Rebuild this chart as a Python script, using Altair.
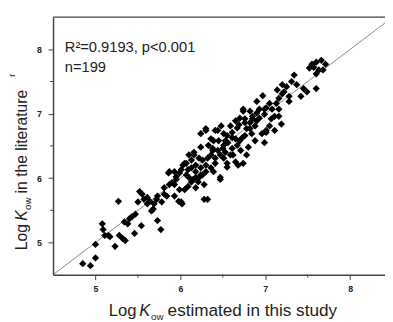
import altair as alt
import pandas as pd

# Estimated log Kow (this study) vs. literature log Kow
est = [4.85, 4.94, 5.00, 5.00, 5.08, 5.09, 5.11, 5.15, 5.17, 5.23,
       5.27, 5.28, 5.32, 5.34, 5.35, 5.40, 5.43, 5.46, 5.54, 5.50,
       5.52, 5.55, 5.57, 5.61, 5.64, 5.66, 5.68, 5.69, 5.73, 5.73,
       5.77, 5.78, 5.81, 5.84, 5.86, 5.87, 5.90, 5.93, 5.95, 5.98,
       5.99, 6.01, 6.02, 6.05, 6.07, 6.09, 6.09, 6.13, 6.15, 6.16,
       6.16, 6.18, 6.10, 6.22, 6.24, 6.26, 6.28, 6.30, 6.32, 6.03,
       5.95, 5.87, 6.21, 6.26, 6.24, 6.24, 6.30, 6.30, 6.38, 6.38,
       6.39, 6.41, 6.41, 6.44, 6.45, 6.47, 6.47, 6.51, 6.51, 6.53,
       6.55, 6.55, 6.56, 6.61, 6.61, 6.61, 6.65, 6.65, 6.67, 6.69,
       6.68, 6.70, 6.73, 6.74, 6.74, 6.74, 6.76, 6.76, 6.80, 6.82,
       6.84, 6.85, 6.85, 6.93, 6.96, 6.97, 6.90, 6.99, 6.99, 6.99,
       7.01, 7.01, 7.01, 7.07, 7.11, 7.11, 7.13, 7.16, 7.16, 7.19,
       7.20, 7.20, 7.22, 7.28, 7.34, 7.42, 7.45, 7.49, 7.55, 7.60,
       7.60, 7.60, 7.63, 7.66, 7.68, 7.71, 6.01, 6.07, 6.13, 6.18,
       6.18, 6.24, 6.30, 6.32, 6.36, 6.33, 6.39, 6.44, 6.47, 6.51,
       6.53, 6.59, 6.62, 6.67, 6.70, 6.76, 6.78, 6.82, 6.88, 6.90,
       6.93, 7.05, 7.08, 7.14, 7.25, 7.31, 7.37, 7.52, 7.57, 6.13,
       5.93, 5.81, 5.72, 5.61, 5.47, 5.38, 6.05, 5.99, 6.36, 6.28,
       6.41, 6.59, 6.65, 6.82, 6.90, 5.93, 6.22, 6.50, 6.55, 6.71,
       6.78, 6.88, 7.05, 7.16, 7.28, 6.18, 6.10, 6.36, 6.48]
lit = [4.67, 4.64, 4.76, 4.97, 5.29, 5.20, 5.11, 5.11, 5.09, 4.94,
       5.64, 5.11, 5.06, 5.32, 5.03, 5.37, 5.40, 5.14, 5.26, 5.63,
       5.79, 5.75, 5.67, 5.70, 5.64, 5.49, 5.52, 5.60, 5.72, 5.34,
       5.20, 5.63, 5.85, 5.72, 6.08, 5.90, 5.93, 5.72, 6.02, 5.64,
       6.08, 5.63, 5.60, 6.23, 6.23, 6.13, 5.87, 5.94, 5.98, 6.36,
       6.40, 5.85, 6.36, 6.01, 6.05, 6.28, 5.67, 6.10, 5.67, 6.20,
       5.98, 6.10, 5.94, 6.05, 6.48, 6.69, 6.77, 6.74, 6.46, 6.43,
       6.10, 6.74, 6.23, 6.74, 6.58, 6.01, 5.98, 6.69, 6.51, 6.40,
       6.23, 6.17, 6.55, 6.71, 6.63, 6.46, 6.61, 6.25, 6.78, 6.83,
       6.20, 6.93, 6.63, 7.07, 7.04, 6.23, 6.92, 6.86, 6.48, 6.77,
       6.69, 6.96, 6.92, 6.93, 6.69, 7.28, 7.19, 7.07, 6.99, 6.55,
       7.09, 6.74, 6.71, 6.92, 6.96, 6.74, 7.16, 7.24, 7.07, 6.84,
       7.45, 7.31, 7.34, 7.27, 7.60, 7.27, 7.39, 7.34, 7.77, 7.80,
       7.62, 7.39, 7.68, 7.83, 7.68, 7.77, 6.13, 6.05, 6.16, 6.20,
       6.10, 6.16, 6.20, 6.31, 6.36, 6.51, 6.58, 6.43, 6.36, 6.31,
       6.58, 6.36, 6.36, 6.51, 6.58, 6.66, 6.77, 6.86, 6.81, 7.01,
       7.07, 7.16, 7.07, 7.37, 7.42, 7.50, 7.45, 7.71, 7.72, 6.28,
       5.90, 5.75, 5.67, 5.60, 5.44, 5.29, 5.82, 5.82, 6.16, 5.90,
       6.31, 6.81, 6.89, 7.04, 6.89, 6.10, 6.31, 6.46, 6.66, 6.43,
       6.36, 6.58, 6.81, 6.96, 7.19, 6.01, 6.01, 6.61, 6.81]

major_ticks = [5, 6, 7, 8]
minor_ticks = [5.5, 6.5, 7.5]
diag = [4.5, 8.5]

XMIN, XMAX = 4.5, 8.41
YMIN, YMAX = 4.5, 8.5
W, H = 339, 263
FONT = "Liberation Sans"
INK = "#222222"
AX = "#444444"

pts = pd.DataFrame({"est": est, "lit": lit})
diag_df = pd.DataFrame({"est": diag, "lit": diag})
minor_df = pd.DataFrame({"v": minor_ticks})

xs = alt.Scale(domain=[XMIN, XMAX], nice=False, zero=False)
ys = alt.Scale(domain=[YMIN, YMAX], nice=False, zero=False)

xaxis = alt.Axis(values=major_ticks, format="d", title=None, grid=False, tickSize=5,
                 labelPadding=5, labelFontSize=9, labelFontWeight="bold",
                 labelFont=FONT, labelColor=INK, domainColor=AX, domainWidth=1.5,
                 tickColor=AX, labelFlush=False)
yaxis = alt.Axis(values=major_ticks, format="d", title=None, grid=False, tickSize=5,
                 labelPadding=7, labelFontSize=9, labelFontWeight="bold",
                 labelFont=FONT, labelColor=INK, domainColor=AX, domainWidth=1.5,
                 tickColor=AX, labelFlush=False)

points = alt.Chart(pts).mark_point(shape="diamond", filled=True, size=55,
                                   color="black", opacity=1).encode(
    x=alt.X("est:Q", scale=xs, axis=xaxis),
    y=alt.Y("lit:Q", scale=ys, axis=yaxis),
)

line = alt.Chart(diag_df).mark_line(color="#555555", strokeWidth=0.7, clip=True).encode(
    x=alt.X("est:Q", scale=xs),
    y=alt.Y("lit:Q", scale=ys),
)

top = alt.Chart(pd.DataFrame({"a": [0]})).mark_rule(color=AX, strokeWidth=1.5).encode(
    x=alt.value(0), x2=alt.value(W), y=alt.value(0)
)

xminor = alt.Chart(minor_df).mark_rule(color=AX, strokeWidth=1).encode(
    x=alt.X("v:Q", scale=xs), y=alt.value(H), y2=alt.value(H + 3)
)
yminor = alt.Chart(minor_df).mark_rule(color=AX, strokeWidth=1).encode(
    y=alt.Y("v:Q", scale=ys), x=alt.value(0), x2=alt.value(-3)
)

def txt(s, x, y, size, style="normal", angle=0, align="left"):
    return alt.Chart(pd.DataFrame({"t": [s]})).mark_text(
        font=FONT, fontSize=size, fontStyle=style, color=INK, align=align,
        baseline="alphabetic", angle=angle
    ).encode(text="t:N", x=alt.value(x), y=alt.value(y))

annots = [
    txt("R²=0.9193, p<0.001", 12, 36, 15),
    txt("n=199", 12, 56, 15),
    # x title
    txt("Log", 57, 305, 17),
    txt("K", 88, 305, 17, style="italic"),
    txt("ow", 100, 309, 10),
    txt("estimated in this study", 117, 305, 17.5),
    # y title (rotated)
    txt("Log", -27, 238, 16, angle=270),
    txt("K", -27, 208, 16, style="italic", angle=270),
    txt("ow", -23, 197, 10, angle=270),
    txt("in the literature", -27, 180, 16, angle=270),
    txt("r", -39, 61, 9, angle=270),
]

chart = alt.layer(line, points, top, xminor, yminor, *annots).properties(
    width=W, height=H,
    autosize=alt.AutoSizeParams(type="none"),
    padding={"left": 46, "top": 6, "right": 0, "bottom": 45},
).configure_view(stroke=None)

chart.save("out.html", embed_options={"renderer": "svg", "actions": False})
